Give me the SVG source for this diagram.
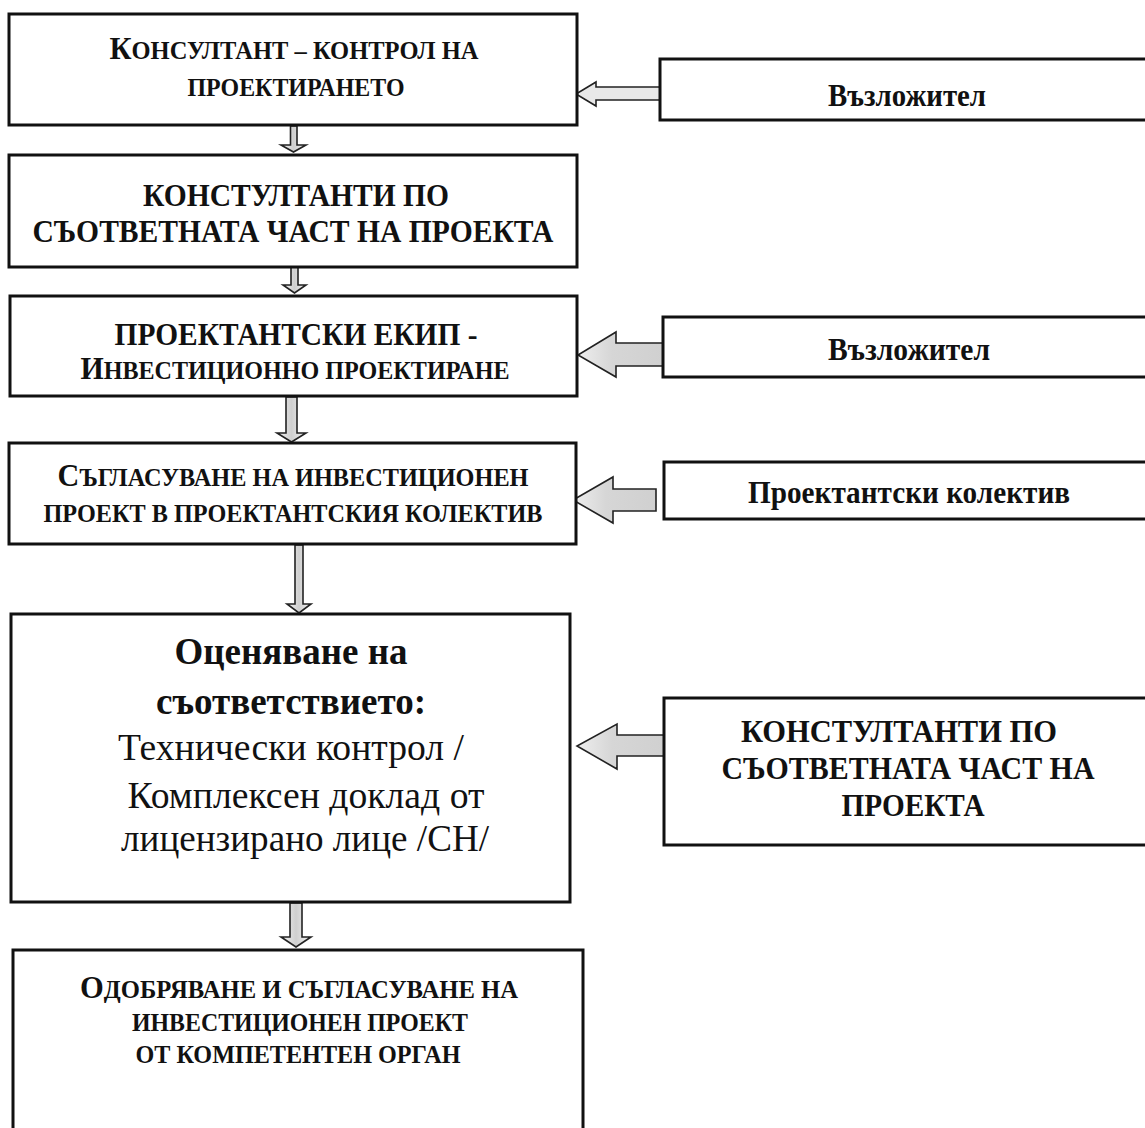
<svg xmlns="http://www.w3.org/2000/svg" width="1145" height="1128" viewBox="0 0 1145 1128">
<style>
.box{fill:#fff;stroke:#111;stroke-width:3}
.arr{stroke:#222;stroke-width:1.6;stroke-linejoin:miter}
.t{font-family:"Liberation Serif","Times New Roman",serif;font-weight:bold;fill:#111;text-anchor:middle}
.n{font-weight:normal}
.sc{font-size:25px}
.big{font-size:31px}
.m{font-size:31px}
.l{font-size:38px}
</style>
<defs>
<linearGradient id="dg" x1="0" y1="0" x2="1" y2="0">
<stop offset="0" stop-color="#f4f4f4"/><stop offset="0.5" stop-color="#cfcfcf"/><stop offset="1" stop-color="#f4f4f4"/>
</linearGradient>
<linearGradient id="lg" x1="0" y1="0" x2="1" y2="0">
<stop offset="0" stop-color="#eeeeee"/><stop offset="0.4" stop-color="#d6d6d6"/><stop offset="1" stop-color="#d0d0d0"/>
</linearGradient>
</defs>
<rect width="1145" height="1128" fill="#fff"/>

<g id="connectors">
<polygon class="arr" fill="#e8e8e8" points="660,87 596,87 596,82 576,94 596,106 596,100 660,100"/>
<polygon class="arr" fill="url(#lg)" points="663,343 616,343 616,332 578,355 616,377 616,366 663,366"/>
<polygon class="arr" fill="url(#lg)" points="656,489 613,489 613,477 573,500 613,523 613,511 656,511"/>
<polygon class="arr" fill="url(#lg)" points="665,735 617,735 617,724 577,746 617,769 617,756 665,756"/>
<polygon class="arr" fill="url(#dg)" points="290.5,126 297,126 297,145 306,145 293.5,152 281,145 290.5,145"/>
<polygon class="arr" fill="url(#dg)" points="291,267 298,267 298,285 306,285 294.5,293 283,285 291,285"/>
<polygon class="arr" fill="url(#dg)" points="286,397 297,397 297,433 306,433 291.5,442 277,433 286,433"/>
<polygon class="arr" fill="url(#dg)" points="295,545 303,545 303,604 311,604 299,613 287,604 295,604"/>
<polygon class="arr" fill="url(#dg)" points="290,903 302,903 302,937 311,937 296,947 281,937 290,937"/>
</g>

<g id="node-konsultant">
<rect class="box" x="9" y="14" width="568" height="111"/>
<text class="t sc" x="294" y="59" textLength="369" lengthAdjust="spacingAndGlyphs"><tspan class="big">К</tspan>ОНСУЛТАНТ – КОНТРОЛ НА</text>
<text class="t sc" x="296" y="96" textLength="217" lengthAdjust="spacingAndGlyphs">ПРОЕКТИРАНЕТО</text>
</g>

<g id="node-konsultanti">
<rect class="box" x="9" y="155" width="568" height="112"/>
<text class="t m" x="296" y="206" textLength="306" lengthAdjust="spacingAndGlyphs">КОНСТУЛТАНТИ ПО</text>
<text class="t m" x="293" y="242" textLength="521" lengthAdjust="spacingAndGlyphs">СЪОТВЕТНАТА ЧАСТ НА ПРОЕКТА</text>
</g>

<g id="node-ekip">
<rect class="box" x="10" y="296" width="567" height="100"/>
<text class="t m" x="296" y="345" textLength="363" lengthAdjust="spacingAndGlyphs">ПРОЕКТАНТСКИ ЕКИП -</text>
<text class="t sc" x="295" y="379" textLength="429" lengthAdjust="spacingAndGlyphs"><tspan class="big">И</tspan>НВЕСТИЦИОННО ПРОЕКТИРАНЕ</text>
</g>

<g id="node-saglasuvane">
<rect class="box" x="9" y="443" width="567" height="101"/>
<text class="t sc" x="293" y="486" textLength="471" lengthAdjust="spacingAndGlyphs"><tspan class="big">С</tspan>ЪГЛАСУВАНЕ НА ИНВЕСТИЦИОНЕН</text>
<text class="t sc" x="293" y="522" textLength="499" lengthAdjust="spacingAndGlyphs">ПРОЕКТ В ПРОЕКТАНТСКИЯ КОЛЕКТИВ</text>
</g>

<g id="node-ocenyavane">
<rect class="box" x="11" y="614" width="559" height="288"/>
<text class="t l" x="291" y="664" textLength="233" lengthAdjust="spacingAndGlyphs">Оценяване на</text>
<text class="t l" x="291" y="714" textLength="270" lengthAdjust="spacingAndGlyphs">съответствието:</text>
<text class="t l n" x="291" y="760" textLength="346" lengthAdjust="spacingAndGlyphs">Технически контрол /</text>
<text class="t l n" x="306" y="808" textLength="357" lengthAdjust="spacingAndGlyphs">Комплексен доклад от</text>
<text class="t l n" x="305" y="851" textLength="368" lengthAdjust="spacingAndGlyphs">лицензирано лице /СН/</text>
</g>

<g id="node-odobryavane">
<rect class="box" x="13" y="950" width="570" height="220"/>
<text class="t sc" x="299" y="998" textLength="438" lengthAdjust="spacingAndGlyphs"><tspan class="big">О</tspan>ДОБРЯВАНЕ И СЪГЛАСУВАНЕ НА</text>
<text class="t sc" x="300" y="1031" textLength="336" lengthAdjust="spacingAndGlyphs">ИНВЕСТИЦИОНЕН ПРОЕКТ</text>
<text class="t sc" x="298" y="1063" textLength="325" lengthAdjust="spacingAndGlyphs">ОТ КОМПЕТЕНТЕН ОРГАН</text>
</g>

<g id="node-vazlozhitel-1">
<rect class="box" x="660" y="59" width="500" height="61"/>
<text class="t m" x="907" y="106" textLength="158" lengthAdjust="spacingAndGlyphs">Възложител</text>
</g>

<g id="node-vazlozhitel-2">
<rect class="box" x="663" y="317" width="500" height="60"/>
<text class="t m" x="909" y="360" textLength="162" lengthAdjust="spacingAndGlyphs">Възложител</text>
</g>

<g id="node-proektantski-kolektiv">
<rect class="box" x="664" y="462" width="500" height="57"/>
<text class="t m" x="909" y="503" textLength="322" lengthAdjust="spacingAndGlyphs">Проектантски колектив</text>
</g>

<g id="node-konsultanti-right">
<rect class="box" x="664" y="698" width="500" height="147"/>
<text class="t m" x="899" y="742" textLength="316" lengthAdjust="spacingAndGlyphs">КОНСТУЛТАНТИ ПО</text>
<text class="t m" x="908" y="779" textLength="373" lengthAdjust="spacingAndGlyphs">СЪОТВЕТНАТА ЧАСТ НА</text>
<text class="t m" x="913" y="816" textLength="143" lengthAdjust="spacingAndGlyphs">ПРОЕКТА</text>
</g>
</svg>
